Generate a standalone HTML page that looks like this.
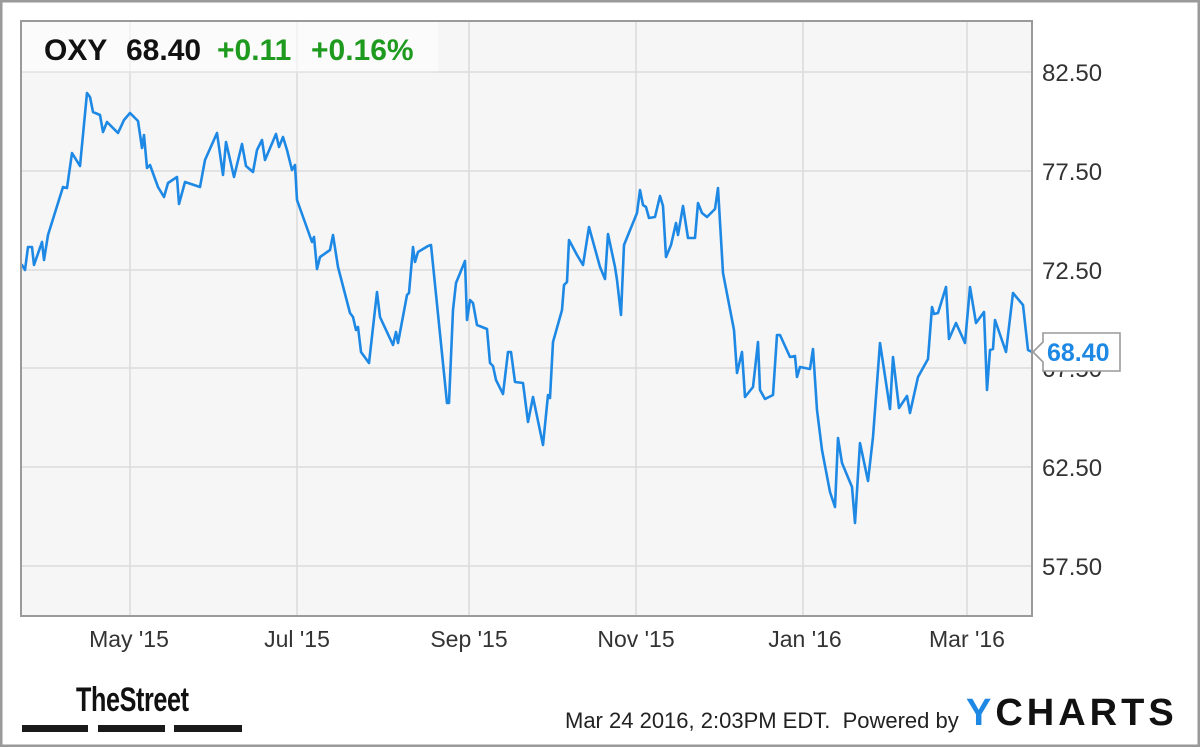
<!DOCTYPE html>
<html>
<head>
<meta charset="utf-8">
<style>
  html,body{margin:0;padding:0;background:#fff;}
  body{width:1200px;height:747px;overflow:hidden;}
  svg{display:block;}
  text{font-family:"Liberation Sans",Arial,sans-serif;}
</style>
</head>
<body>
<svg width="1200" height="747" viewBox="0 0 1200 747" xmlns="http://www.w3.org/2000/svg">
  <!-- outer border -->
  <rect x="1.25" y="1.25" width="1197.5" height="744.5" fill="#fff" stroke="#9a9a9a" stroke-width="2.5"/>

  <!-- plot area -->
  <rect x="21" y="21" width="1011" height="595" fill="#f6f6f6"/>

  <!-- grid -->
  <g stroke="#dcdcdc" stroke-width="1.6">
    <line x1="21" y1="72" x2="1032" y2="72"/>
    <line x1="21" y1="171" x2="1032" y2="171"/>
    <line x1="21" y1="270" x2="1032" y2="270"/>
    <line x1="21" y1="368" x2="1032" y2="368"/>
    <line x1="21" y1="467" x2="1032" y2="467"/>
    <line x1="21" y1="566" x2="1032" y2="566"/>
    <line x1="130" y1="21" x2="130" y2="616"/>
    <line x1="297" y1="21" x2="297" y2="616"/>
    <line x1="469" y1="21" x2="469" y2="616"/>
    <line x1="636" y1="21" x2="636" y2="616"/>
    <line x1="803" y1="21" x2="803" y2="616"/>
    <line x1="967" y1="21" x2="967" y2="616"/>
  </g>

  <!-- header box -->
  <rect x="22" y="22" width="416" height="50" fill="#ffffff" fill-opacity="0.6"/>
  <line x1="22" y1="72" x2="438" y2="72" stroke="#e4e4e4" stroke-width="1.5"/>

  <!-- price line -->
  <polyline fill="none" stroke="#1e88e5" stroke-width="2.6" stroke-linejoin="round" stroke-linecap="round"
    points="22,265 25,270 28,247 32,247 34,265 42,242 44,260 48,235 63,187 67,188 72,153 80,166 87,93 90,97 93,112 100,115 103,132 107,122 118,133 124,120 130,113 138,121 142,148 144,135 147,168 150,165 158,187 164,197 168,183 177,177 179,204 185,182 200,187 205,160 217,133 218,140 223,175 226,142 234,177 242,144 246,166 253,172 257,150 262,140 265,160 276,134 279,147 283,137 287,150 292,170 295,165 297,200 312,242 314,237 317,269 320,257 330,250 333,235 338,267 350,313 353,317 356,330 358,327 361,352 369,363 377,292 380,317 393,345 396,332 398,343 407,295 409,293 413,247 415,262 418,252 428,246 431,245 447,403 449,403 453,310 456,283 465,261 467,320 470,300 473,303 477,325 487,329 490,363 493,366 496,380 503,394 508,352 511,352 515,382 523,383 528,422 533,397 543,445 548,395 550,398 553,342 562,310 564,285 567,282 569,240 577,255 583,265 589,227 600,267 605,279 608,234 615,267 617,280 621,315 624,245 637,213 640,190 643,205 646,207 649,218 655,217 660,196 663,206 666,257 671,245 676,223 678,235 683,206 688,238 695,238 698,203 702,213 707,217 715,209 718,188 723,273 734,330 737,373 742,352 745,397 753,387 758,342 760,390 765,399 773,395 777,335 780,335 790,357 795,356 797,377 800,367 810,369 813,349 817,410 822,450 830,492 835,507 838,438 842,463 852,487 855,523 860,443 868,481 873,437 880,343 890,409 893,357 899,408 907,396 910,413 918,377 928,359 932,307 934,314 938,313 946,287 949,339 956,323 965,343 970,287 976,323 984,312 987,390 990,350 993,349 995,320 1006,352 1013,293 1023,305 1028,350 1032,352"/>

  <!-- plot frame -->
  <rect x="21" y="21" width="1011" height="595" fill="none" stroke="#9a9a9a" stroke-width="2"/>

  <!-- header text -->
  <g font-size="30" font-weight="bold">
    <text x="44" y="60" fill="#111">OXY</text>
    <text x="126" y="60" fill="#111">68.40</text>
    <text x="217" y="60" fill="#1e9a1e">+0.11</text>
    <text x="311" y="60" fill="#1e9a1e">+0.16%</text>
  </g>

  <!-- y axis labels -->
  <g font-size="24" fill="#333">
    <text x="1042" y="81">82.50</text>
    <text x="1042" y="180">77.50</text>
    <text x="1042" y="279">72.50</text>
    <text x="1042" y="377">67.50</text>
    <text x="1042" y="476">62.50</text>
    <text x="1042" y="575">57.50</text>
  </g>

  <!-- price tag -->
  <path d="M1033,352 L1043,342 L1043,333 L1120,333 L1120,371 L1043,371 L1043,362 Z" fill="#fff" stroke="#9a9a9a" stroke-width="1.6"/>
  <text x="1047" y="361" font-size="25" font-weight="bold" fill="#1e88e5">68.40</text>

  <!-- x axis labels -->
  <g font-size="23" fill="#333" text-anchor="middle">
    <text x="129" y="647">May '15</text>
    <text x="297" y="647">Jul '15</text>
    <text x="469" y="647">Sep '15</text>
    <text x="636" y="647">Nov '15</text>
    <text x="805" y="647">Jan '16</text>
    <text x="967" y="647">Mar '16</text>
  </g>

  <!-- TheStreet logo -->
  <text x="76" y="711" font-size="34" font-weight="bold" fill="#111" transform="translate(76,0) scale(0.74,1) translate(-76,0)" letter-spacing="-0.5">TheStreet</text>
  <g fill="#1a1a1a">
    <rect x="22" y="725" width="66" height="7"/>
    <rect x="98" y="725" width="67" height="7"/>
    <rect x="174" y="725" width="68" height="7"/>
  </g>

  <!-- footer -->
  <text x="565" y="728" font-size="22" fill="#222" xml:space="preserve">Mar 24 2016, 2:03PM EDT.  Powered by</text>
  <text x="966" y="725" font-size="38" font-weight="bold" letter-spacing="4"><tspan fill="#1e88e5">Y</tspan><tspan fill="#111">CHARTS</tspan></text>
</svg>
</body>
</html>
